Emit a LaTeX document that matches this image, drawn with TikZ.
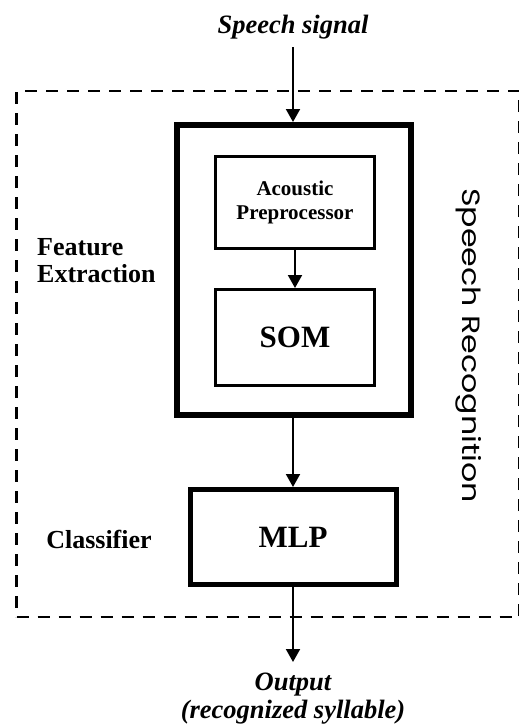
\documentclass[tikz,border=0pt]{standalone}
\usepackage{fontspec}
\setmainfont{Liberation Serif}
\newfontfamily\gothic{Poppins}
\usetikzlibrary{arrows.meta}
\begin{document}
\begin{tikzpicture}[x=1pt,y=-1pt,
  arr/.style={line width=2pt,-{Triangle[length=13pt,width=14pt]}},
  framebox/.style={draw,line width=2.5pt,dash pattern=on 12pt off 9pt,inner sep=0pt},
  thickbox/.style={draw,line width=6pt,inner sep=0pt},
  midbox/.style={draw,line width=5pt,inner sep=0pt},
  thinbox/.style={draw,line width=3pt,inner sep=0pt},
  lbl/.style={font=\fontsize{26}{27}\selectfont\bfseries,inner sep=0pt},
  itlbl/.style={font=\fontsize{26.5}{28}\selectfont\bfseries\itshape,inner sep=0pt}]
\useasboundingbox (0,0) rectangle (519,724);
\fill[white] (0,0) rectangle (519,724);
% outer dashed frame
\node[framebox, minimum width=503pt, minimum height=526pt] (sysbox) at (268,354) {};
% feature extraction frame
\node[thickbox, minimum width=234pt, minimum height=290pt] (fe) at (294,270) {};
\node[thinbox, minimum width=159pt, minimum height=92pt, align=center,
      font=\fontsize{21}{24}\selectfont\bfseries] (ap) at (295,202.5) {Acoustic\\Preprocessor};
\node[thinbox, minimum width=159pt, minimum height=96pt,
      font=\fontsize{31}{34}\selectfont\bfseries] (som) at (295,337.5) {SOM};
\node[midbox, minimum width=206pt, minimum height=95pt,
      font=\fontsize{31}{34}\selectfont\bfseries] (mlp) at (293,537) {MLP};
% labels
\node[itlbl, anchor=base] (sig) at (293,33) {Speech signal};
\node[lbl, anchor=base west, align=left] (fx) at (37,282) {Feature\\Extraction};
\node[lbl, anchor=base] (cl) at (99,548) {Classifier};
\node[itlbl, anchor=base, align=center] (outl) at (293,718) {Output\\(recognized syllable)};
\node[rotate=-90, anchor=base, inner sep=0pt] (sr) at (462,345.5)
  {\resizebox{315pt}{19pt}{\gothic Speech Recognition}};
% connectors
\coordinate (in) at (293,47);
\coordinate (out) at (293,662);
\draw[arr] (in) -- (in |- fe.north);
\draw[arr] (ap.south) -- (som.north);
\draw[arr] (mlp.north |- fe.south) -- (mlp.north);
\draw[arr] (mlp.south) -- (out);
\end{tikzpicture}
\end{document}
